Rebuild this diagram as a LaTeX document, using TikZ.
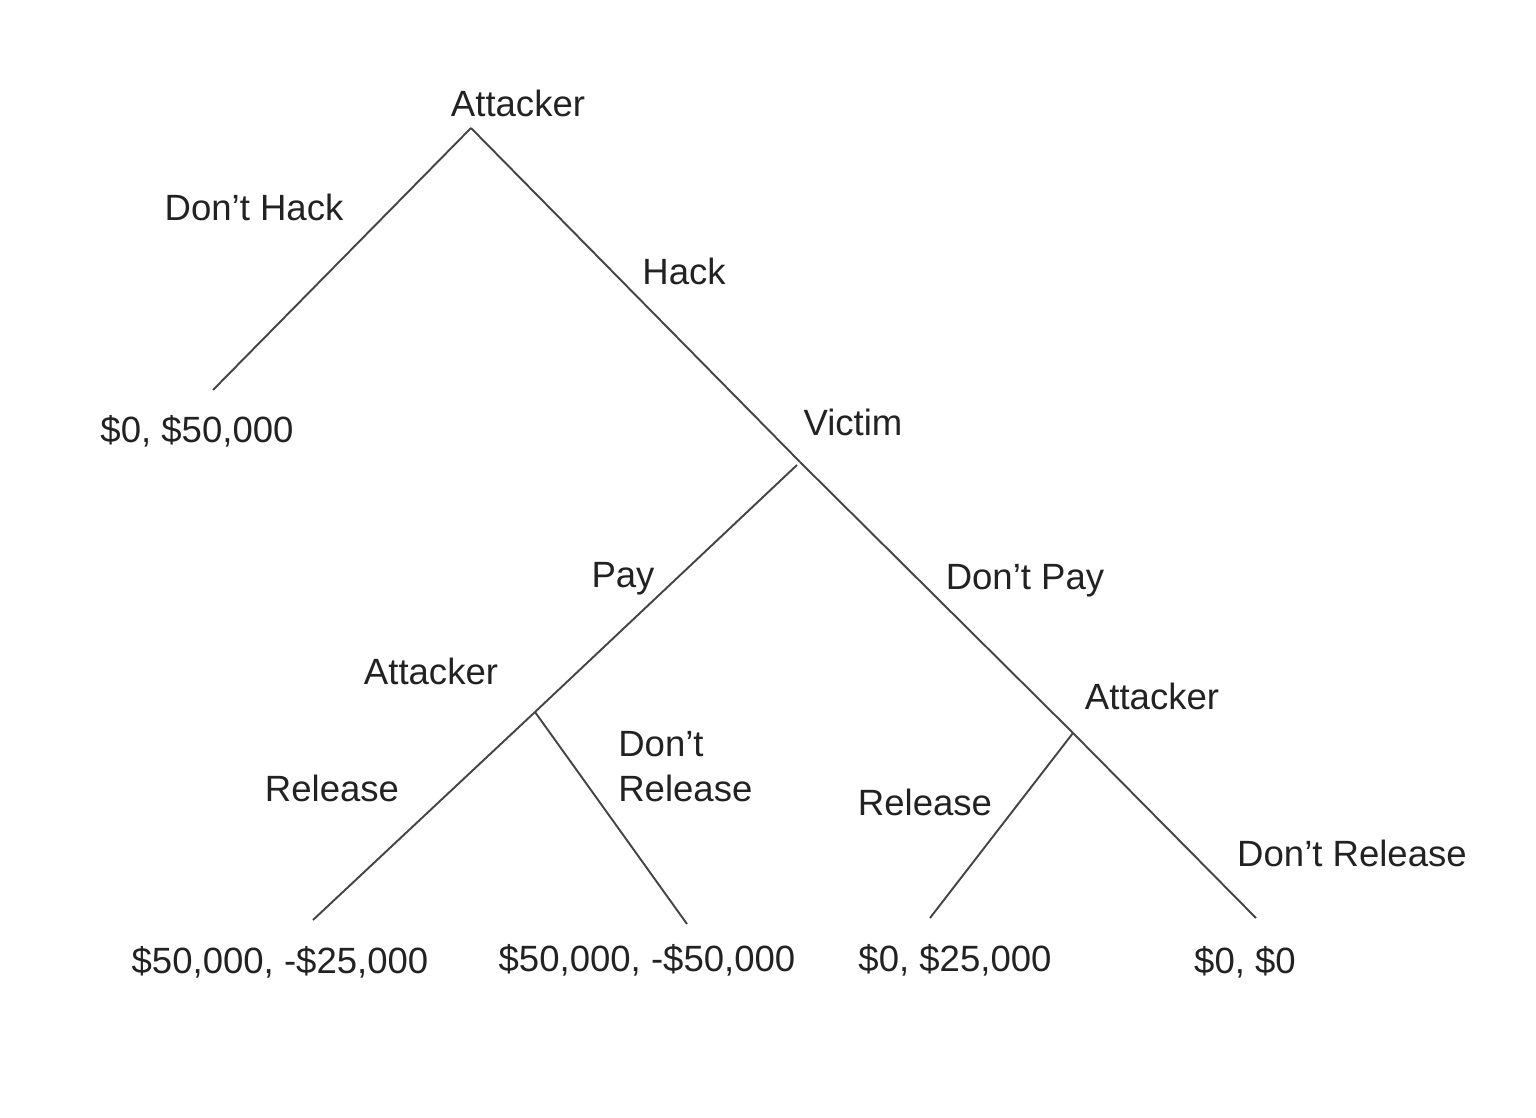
\documentclass[tikz,border=0pt]{standalone}
\usepackage{fontspec}
\setmainfont{Liberation Sans}
\usepackage{tikz}
\usetikzlibrary{positioning}
\definecolor{branch}{HTML}{454545}
\definecolor{ink}{HTML}{222222}

\begin{document}
\begin{tikzpicture}[x=0.02cm, y=-0.02cm,
		lbl/.style={anchor=base, inner sep=0pt, text=ink, font=\fontsize{20.8}{25.5}\selectfont},
		edge/.style={draw=branch, line width=1.1pt}]
			\useasboundingbox (0,0) rectangle (1536,1118);
			% decision points and leaf ends
			\coordinate (root) at (471,128);
			\coordinate (nohack) at (213,390);
			\coordinate (victim) at (797,465);
			\coordinate (vmain) at (800,462);
			\coordinate (att1) at (535,712);
			\coordinate (att2) at (1073,733);
			\coordinate (l1) at (313,920);
			\coordinate (l2) at (687,924);
			\coordinate (l3) at (930,918);
			\coordinate (l4) at (1256,918);
			\foreach \from/\to in {root/nohack,root/vmain,vmain/att2,att2/l4,victim/att1,att1/l1,att1/l2,att2/l3}
				\draw[edge] (\from) -- (\to);
			% players
			\node[lbl] (p1) at (518,117) {Attacker};
			\node[lbl] (p2) at (853,436) {Victim};
			\node[lbl] (p3) at (431,684) {Attacker};
			\node[lbl] (p4) at (1152,709) {Attacker};
			% moves
			\node[lbl] (m1) at (254,221) {Don't Hack};
			\node[lbl] (m2) at (684,285) {Hack};
			\node[lbl] (m3) at (623,588) {Pay};
			\node[lbl] (m4) at (1025,590) {Don't Pay};
			\node[lbl] (m5) at (332,801) {Release};
			\node[lbl, anchor=base west, align=left] (m6) at (618,801) {Don't\\Release};
			\node[lbl] (m7) at (925,815) {Release};
			\node[lbl] (m8) at (1352,866) {Don't Release};
			% payoffs
			\node[lbl] (o1) at (197,443) {\$0, \$50,000};
			\node[lbl] (o2) at (280,973) {\$50,000, -\$25,000};
			\node[lbl] (o3) at (647,971) {\$50,000, -\$50,000};
			\node[lbl] (o4) at (955,971) {\$0, \$25,000};
			\node[lbl] (o5) at (1245,973) {\$0, \$0};
		\end{tikzpicture}
\end{document}
